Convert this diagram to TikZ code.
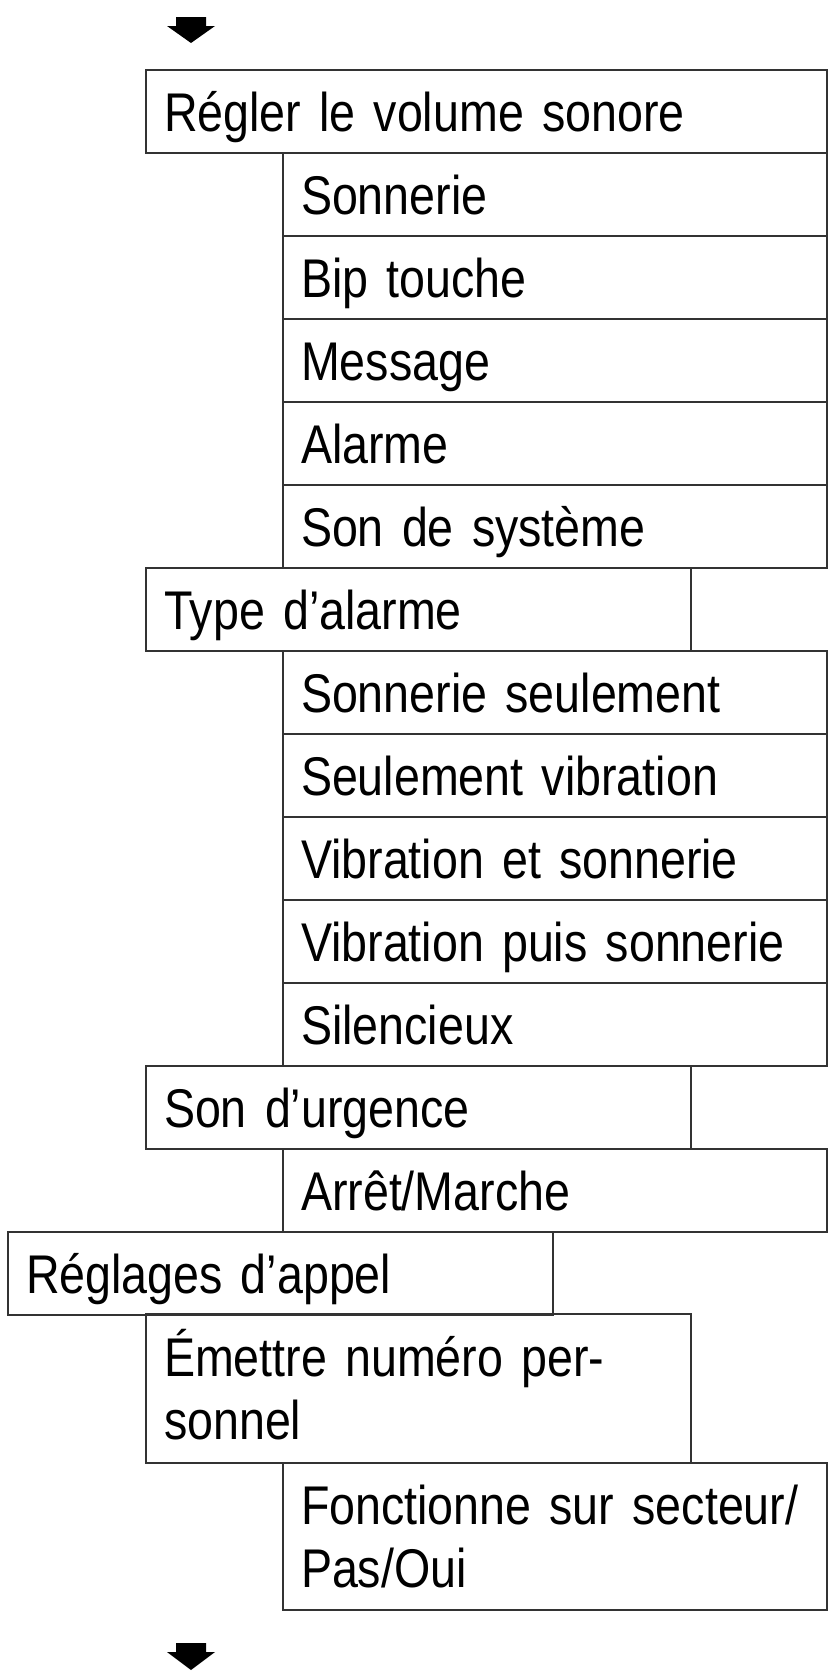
\documentclass[tikz,border=0pt]{standalone}
\usepackage{fontspec}
\setmainfont{Liberation Sans}[FakeStretch=0.855]
\begin{document}
\begin{tikzpicture}[x=1pt, y=-1pt,
  menubox/.style={draw=black!80, line width=2.2pt, anchor=north west, outer sep=0pt,
    inner xsep=18pt, inner ysep=0pt, align=left, text height=39pt, text depth=0pt,
    minimum height=83pt, font=\fontsize{54.5}{62.5}\selectfont},
  topbox/.style={menubox, text width=645pt},
  midbox/.style={menubox, text width=509pt},
  subbox/.style={menubox, text width=508pt},
  twoline/.style={text depth=63pt},
  flowmark/.style={fill=black, draw=none}]

% keep bounding box at the size of the page
  \path[use as bounding box] (0,0) rectangle (832,1673);

  \path[flowmark] (176,17) -- (206,17) -- (206,26) -- (215,26) -- (191,43) -- (167,26) -- (176,26) -- cycle;

  \node[topbox] (volume) at (146,70) {Régler le volume sonore};
  \node[subbox] (sonnerie) at (283,153) {Sonnerie};
  \node[subbox] (bip) at (283,236) {Bip touche};
  \node[subbox] (message) at (283,319) {Message};
  \node[subbox] (alarme) at (283,402) {Alarme};
  \node[subbox] (systeme) at (283,485) {Son de système};
  \node[midbox] (typealarme) at (146,568) {Type d’alarme};
  \node[subbox] (sonseul) at (283,651) {Sonnerie seulement};
  \node[subbox] (vibseul) at (283,734) {Seulement vibration};
  \node[subbox] (vibetson) at (283,817) {Vibration et sonnerie};
  \node[subbox] (vibpuis) at (283,900) {Vibration puis sonnerie};
  \node[subbox] (silence) at (283,983) {Silencieux};
  \node[midbox] (urgence) at (146,1066) {Son d’urgence};
  \node[subbox] (marche) at (283,1149) {Arrêt/Marche};
  \node[midbox] (appel) at (8,1232) {Réglages d’appel};
  \node[midbox, twoline, minimum height=149pt] (numero) at (146,1314) {Émettre numéro per-\\sonnel};
  \node[subbox, twoline, minimum height=147pt] (secteur) at (283,1463) {Fonctionne sur secteur/\\Pas/Oui};

  \path[flowmark] (176,1643) -- (206,1643) -- (206,1652) -- (215,1652) -- (191,1670) -- (167,1652) -- (176,1652) -- cycle;
\end{tikzpicture}
\end{document}
